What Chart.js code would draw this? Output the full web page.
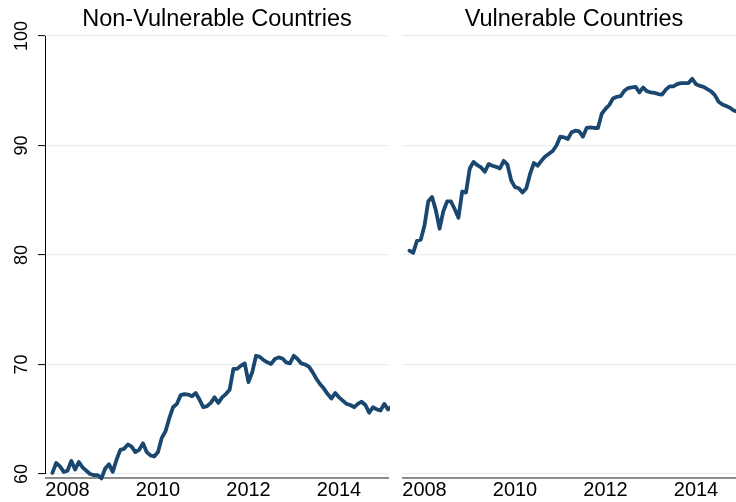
<!DOCTYPE html>
<html>
<head>
<meta charset="utf-8">
<script src="https://cdn.jsdelivr.net/npm/chart.js@4.4.1/dist/chart.umd.min.js"></script>
<style>
html, body { margin:0; padding:0; overflow:hidden; background:#fff; width:736px; height:502px; }
canvas { position:absolute; top:0; }
#left { left:0; }
#right { left:390px; }
</style>
</head>
<body>
<canvas id="left" width="390" height="502"></canvas>
<canvas id="right" width="356" height="502"></canvas>
<script>
// ---- Data ----
const months = [
 "2007-09","2007-10","2007-11","2007-12",
 "2008-01","2008-02","2008-03","2008-04","2008-05","2008-06","2008-07","2008-08","2008-09","2008-10","2008-11","2008-12",
 "2009-01","2009-02","2009-03","2009-04","2009-05","2009-06","2009-07","2009-08","2009-09","2009-10","2009-11","2009-12",
 "2010-01","2010-02","2010-03","2010-04","2010-05","2010-06","2010-07","2010-08","2010-09","2010-10","2010-11","2010-12",
 "2011-01","2011-02","2011-03","2011-04","2011-05","2011-06","2011-07","2011-08","2011-09","2011-10","2011-11","2011-12",
 "2012-01","2012-02","2012-03","2012-04","2012-05","2012-06","2012-07","2012-08","2012-09","2012-10","2012-11","2012-12",
 "2013-01","2013-02","2013-03","2013-04","2013-05","2013-06","2013-07","2013-08","2013-09","2013-10","2013-11","2013-12",
 "2014-01","2014-02","2014-03","2014-04","2014-05","2014-06","2014-07","2014-08","2014-09","2014-10","2014-11","2014-12",
 "2015-01","2015-02","2015-03"
];
const nonVulnerable = [
 60.1, 61.0, 60.7, 60.2, 60.3, 61.2, 60.4, 61.1, 60.6, 60.3,
 60.0, 59.9, 59.9, 59.6, 60.5, 60.9, 60.2, 61.3, 62.2, 62.3,
 62.7, 62.5, 62.0, 62.2, 62.8, 62.0, 61.7, 61.6, 62.0, 63.3,
 63.9, 65.1, 66.1, 66.4, 67.2, 67.3, 67.25, 67.1, 67.4, 66.8,
 66.1, 66.2, 66.5, 67.0, 66.5, 67.0, 67.3, 67.7, 69.6, 69.6,
 69.9, 70.1, 68.4, 69.3, 70.8, 70.7, 70.4, 70.2, 70.05, 70.5,
 70.65, 70.55, 70.2, 70.1, 70.8, 70.5, 70.1, 70.0, 69.8, 69.3,
 68.7, 68.2, 67.8, 67.3, 66.9, 67.4, 67.0, 66.7, 66.4, 66.3,
 66.1, 66.4, 66.6, 66.3, 65.6, 66.1, 65.9, 65.8, 66.4, 65.9,
 66.15
];
const vulnerable = [
 80.4, 80.2, 81.3, 81.4, 82.7, 84.9, 85.3, 84.1, 82.4, 84.0,
 84.9, 84.9, 84.2, 83.4, 85.8, 85.7, 87.9, 88.5, 88.2, 88.0,
 87.6, 88.3, 88.15, 88.05, 87.9, 88.6, 88.25, 86.8, 86.2, 86.1,
 85.7, 86.1, 87.4, 88.4, 88.15, 88.6, 89.0, 89.25, 89.5, 90.0,
 90.8, 90.75, 90.6, 91.2, 91.35, 91.3, 90.8, 91.6, 91.65, 91.6,
 91.6, 92.9, 93.35, 93.7, 94.3, 94.45, 94.5, 95.0, 95.25, 95.3,
 95.35, 94.85, 95.3, 94.95, 94.85, 94.8, 94.7, 94.65, 95.1, 95.4,
 95.4, 95.6, 95.7, 95.7, 95.7, 96.1, 95.6, 95.45, 95.35, 95.15,
 94.95, 94.6, 94.0, 93.75, 93.6, 93.45, 93.2, 93.1
];
const xTickYears = [2008, 2010, 2012, 2014];
const yTicks = [60, 70, 80, 90, 100];
const panelTitles = ["Non-Vulnerable Countries", "Vulnerable Countries"];

// ---- Helpers ----
function toYear(m) { const [y, mo] = m.split("-").map(Number); return y + (mo - 1) / 12; }
function points(values) { return values.map((v, i) => ({ x: toYear(months[i]), y: v })); }

const FONT = '"Liberation Sans", Arial, Helvetica, sans-serif';
const LINE = '#1a476f';
const GRID = '#e6eef1';

const deco = {
  id: 'deco',
  beforeDatasetsDraw(chart) {
    const ctx = chart.ctx, a = chart.chartArea;
    ctx.save();
    ctx.strokeStyle = '#8c8c8c';
    ctx.lineWidth = 2;
    ctx.beginPath();
    ctx.moveTo(a.left, a.bottom + 4);
    ctx.lineTo(a.right, a.bottom + 4);
    ctx.stroke();
    ctx.restore();
  },
  afterDraw(chart, args, opts) {
    const ctx = chart.ctx, a = chart.chartArea;
    ctx.save();
    ctx.fillStyle = '#000';
    ctx.font = '23.5px ' + FONT;
    ctx.textAlign = 'center';
    ctx.textBaseline = 'alphabetic';
    ctx.fillText(opts.title, (a.left + a.right) / 2, 26);
    if (opts.yLabels) {
      const ys = chart.scales.y;
      ctx.font = '18px ' + FONT;
      yTicks.forEach(v => {
        ctx.save();
        ctx.translate(27, ys.getPixelForValue(v));
        ctx.rotate(-Math.PI / 2);
        ctx.fillText(String(v), 0, 0);
        ctx.restore();
      });
    }
    ctx.restore();
  }
};

function makeChart(id, values, title, isLeft) {
  const yAxisWidth = isLeft ? 45 : 12;
  return new Chart(document.getElementById(id), {
    type: 'line',
    data: {
      datasets: [{
        data: points(values),
        borderColor: LINE,
        borderWidth: 3.8,
        pointRadius: 0,
        fill: false,
        tension: 0,
        clip: false,
        borderJoinStyle: 'round',
        borderCapStyle: 'round'
      }]
    },
    options: {
      responsive: false,
      animation: false,
      devicePixelRatio: 1,
      parsing: false,
      layout: { padding: { top: 36, right: isLeft ? 1 : 0, left: 0, bottom: 0 } },
      plugins: {
        legend: { display: false },
        tooltip: { enabled: false },
        title: { display: false },
        deco: { title: title, yLabels: isLeft }
      },
      scales: {
        x: {
          type: 'linear',
          min: 2007.5028,
          max: 2015.105,
          grid: { display: false, drawTicks: false },
          border: { display: false },
          afterBuildTicks: axis => { axis.ticks = xTickYears.map(v => ({ value: v })); },
          afterFit: axis => { axis.height = 28; },
          ticks: {
            autoSkip: false,
            maxRotation: 0,
            minRotation: 0,
            padding: 4,
            color: '#000',
            font: { family: FONT, size: 20 },
            callback: v => String(v)
          }
        },
        y: {
          min: 60,
          max: 100,
          afterBuildTicks: axis => { axis.ticks = yTicks.map(v => ({ value: v })); },
          afterFit: axis => { axis.width = yAxisWidth; },
          grid: {
            color: GRID,
            lineWidth: 1.2,
            drawTicks: isLeft,
            tickLength: 7,
            tickColor: '#000',
            tickWidth: 1
          },
          border: { display: isLeft, color: '#000', width: 1 },
          ticks: { display: false }
        }
      }
    },
    plugins: [deco]
  });
}

makeChart('left', nonVulnerable, panelTitles[0], true);
makeChart('right', vulnerable, panelTitles[1], false);
</script>
</body>
</html>
